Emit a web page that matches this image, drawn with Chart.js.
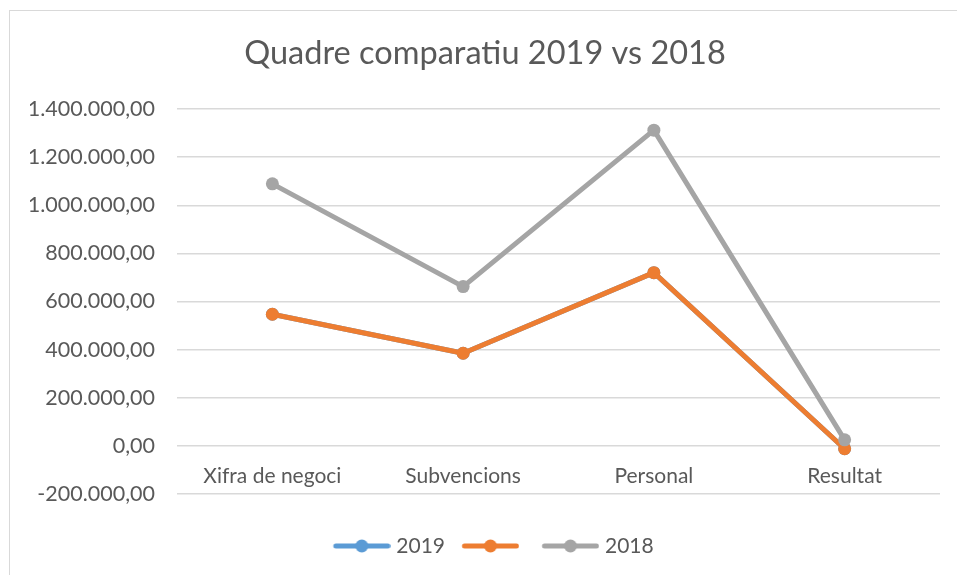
<!DOCTYPE html>
<html>
<head>
<meta charset="utf-8">
<script src="https://cdn.jsdelivr.net/npm/chart.js@4/dist/chart.umd.min.js"></script>
<style>
  html, body { margin: 0; padding: 0; background: #fff; }
  .marc { position: absolute; left: 9px; top: 10px; width: 1000px; height: 1000px; border: 1.5px solid #d9d9d9; }
  .caixa { position: absolute; left: 0; top: 0; width: 957px; height: 575px; }
</style>
</head>
<body>
<div class="marc"></div>
<div class="caixa"><canvas id="grafic"></canvas></div>
<script>
// ---------- DADES ----------
const categories = ['Xifra de negoci', 'Subvencions', 'Personal', 'Resultat'];
const valors2019 = [547000, 385000, 720000, -12000];
const valorsSenseNom = [547000, 385000, 720000, -12000];
const valors2018 = [1089000, 662000, 1312000, 25000];
const yMin = -200000, yMax = 1400000, yPas = 200000;

const colBlau = '#5B9BD5', colTaronja = '#ED7D31', colGris = '#A5A5A5';
const colText = '#595959';
const font = 'Lato';

// format 1.400.000,00
function formatNum(v) {
  const neg = v < 0;
  const s = Math.abs(v).toFixed(2).split('.');
  const ent = s[0].replace(/\B(?=(\d{3})+(?!\d))/g, '.');
  return (neg ? '-' : '') + ent + ',' + s[1];
}

// icona de llegenda: linia amb cercle (desplacada a la dreta dins del canvas)
function iconaLlegenda(color) {
  const c = document.createElement('canvas');
  c.width = 79; c.height = 14;
  const g = c.getContext('2d');
  const x0 = 21.75, x1 = 78.75;
  g.strokeStyle = color; g.lineWidth = 5; g.lineCap = 'round';
  g.beginPath(); g.moveTo(x0 + 2.5, 7); g.lineTo(x1 - 2.5, 7); g.stroke();
  g.fillStyle = color;
  g.beginPath(); g.arc((x0 + x1) / 2, 7, 6.5, 0, Math.PI * 2); g.fill();
  return c;
}
const icones = [iconaLlegenda(colBlau), iconaLlegenda(colTaronja), iconaLlegenda(colGris)];

function serie(label, data, color, order) {
  return {
    label, data, order,
    borderColor: color,
    backgroundColor: color,
    pointBackgroundColor: color,
    pointBorderColor: color,
    borderWidth: 5,
    pointRadius: 6.5,
    pointBorderWidth: 0,
    tension: 0,
    borderCapStyle: 'round',
    borderJoinStyle: 'round',
  };
}

const ctx = document.getElementById('grafic');
new Chart(ctx, {
  type: 'line',
  data: {
    labels: categories,
    datasets: [
      serie('2019', valors2019, colBlau, 3),
      serie('', valorsSenseNom, colTaronja, 2),
      serie('2018', valors2018, colGris, 1),
    ]
  },
  options: {
    responsive: true,
    maintainAspectRatio: false,
    animation: false,
    layout: { padding: { left: 30, right: 17, top: 0, bottom: 8.5 } },
    scales: {
      x: {
        type: 'category',
        position: { y: 0 },
        offset: true,
        grid: { display: false, drawTicks: false },
        border: { display: false },
        ticks: { color: colText, font: { family: font, size: 21 }, padding: 18, maxRotation: 0 },
      },
      y: {
        min: yMin, max: yMax,
        grid: { color: '#d9d9d9', lineWidth: 1.5, drawTicks: false },
        border: { display: false },
        ticks: {
          stepSize: yPas,
          color: colText,
          font: { family: font, size: 21.5 },
          padding: 22,
          callback: v => formatNum(v),
        },
        afterFit: s => { s.width = 147; },
      }
    },
    plugins: {
      title: {
        display: true,
        text: 'Quadre comparatiu 2019 vs 2018',
        color: colText,
        font: { family: font, size: 32.5, weight: 'normal' },
        padding: { top: 34, bottom: 36 },
      },
      legend: {
        position: 'bottom',
        title: { display: true, text: ' ', font: { size: 10 }, padding: 14.75 },
        labels: {
          color: colText,
          font: { family: font, size: 21 },
          usePointStyle: true,
          pointStyleWidth: 69.5,
          padding: 0,
          sort: (a, b) => a.datasetIndex - b.datasetIndex,
          generateLabels: chart => {
            const items = Chart.defaults.plugins.legend.labels.generateLabels(chart);
            items.forEach(it => { it.pointStyle = icones[it.datasetIndex]; });
            return items;
          }
        }
      },
      tooltip: { enabled: false }
    }
  }
});
</script>
</body>
</html>
